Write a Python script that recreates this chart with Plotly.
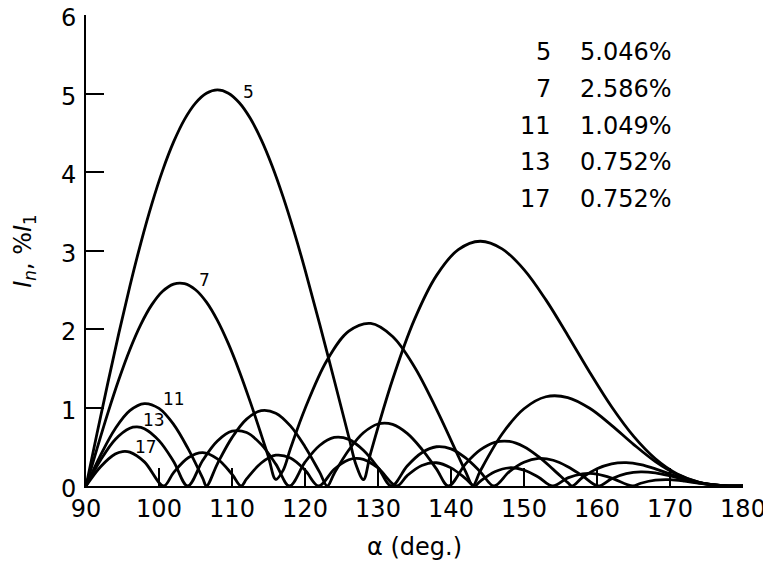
import plotly.graph_objects as go

# ---- data ----
alpha_5 = [90, 91.5, 93, 94.5, 96, 97.5, 99, 100.5, 102, 103.5, 105, 106.5, 108, 109.5, 111, 112.5,
           114, 115.5, 117, 118.5, 120, 123, 126, 127, 128, 129, 132, 135, 138, 141, 144, 147, 150,
           153, 156, 159, 162, 165, 168, 171, 174, 177, 180]
I_5 = [0, 0.665, 1.317, 1.947, 2.542, 3.092, 3.588, 4.021, 4.383, 4.671, 4.878, 5.003, 5.045, 5.004,
       4.882, 4.684, 4.413, 4.077, 3.683, 3.240, 2.757, 1.710, 0.624, 0.267, 0.082, 0.422, 1.356,
       2.122, 2.680, 3.011, 3.118, 3.021, 2.757, 2.371, 1.918, 1.449, 1.009, 0.635, 0.347, 0.154,
       0.048, 0.006, 0]

alpha_7 = [90, 91.5, 93, 94.5, 96, 97.5, 99, 100.5, 102, 103.5, 105, 106.5, 108, 109.5, 111, 112.5,
           114, 115, 116, 117, 118, 120, 123, 126, 129, 132, 135, 138, 141, 142, 143, 144, 147, 150,
           153, 156, 159, 162, 165, 168, 171, 174, 177, 180]
I_7 = [0, 0.473, 0.931, 1.356, 1.736, 2.056, 2.307, 2.481, 2.572, 2.578, 2.500, 2.342, 2.110, 1.813,
       1.463, 1.072, 0.655, 0.369, 0.083, 0.200, 0.474, 0.984, 1.599, 1.972, 2.071, 1.904, 1.516,
       0.979, 0.381, 0.184, 0.008, 0.190, 0.662, 0.984, 1.137, 1.127, 0.990, 0.773, 0.531, 0.311,
       0.145, 0.046, 0.006, 0]

alpha_11 = [90, 92, 94, 96, 98, 100, 102, 104, 106, 106.5, 108, 110, 112, 114, 116, 118, 120, 122,
            123.05, 124, 126, 128, 130, 132, 134, 136, 138, 139.65, 142, 144, 146, 148, 150, 152,
            154, 156, 156.57, 158, 160, 162, 164, 166, 168, 170, 172, 174, 176, 178, 180]
I_11 = [0, 0.394, 0.730, 0.960, 1.050, 0.988, 0.785, 0.472, 0.098, 0, 0.283, 0.616, 0.852, 0.960,
        0.928, 0.766, 0.501, 0.176, 0, 0.160, 0.459, 0.678, 0.790, 0.785, 0.670, 0.470, 0.218, 0,
        0.282, 0.459, 0.556, 0.568, 0.501, 0.374, 0.212, 0.043, 0, 0.108, 0.220, 0.283, 0.298,
        0.272, 0.218, 0.152, 0.090, 0.043, 0.014, 0.002, 0]

alpha_13 = [90, 92, 94, 96, 97, 98, 100, 102, 103.93, 106, 108, 110, 112, 114, 116, 117.87, 120,
            122, 124, 126, 128, 130, 131.84, 134, 136, 138, 140, 142, 144, 145.89, 148, 150, 152,
            154, 156, 158, 160.18, 162, 164, 166, 168, 170, 172, 174, 176, 178, 180]
I_13 = [0, 0.330, 0.593, 0.736, 0.752, 0.730, 0.578, 0.313, 0, 0.328, 0.573, 0.698, 0.682, 0.530,
        0.279, 0, 0.303, 0.516, 0.618, 0.594, 0.455, 0.234, 0, 0.255, 0.424, 0.500, 0.473, 0.357,
        0.183, 0, 0.184, 0.303, 0.351, 0.328, 0.246, 0.130, 0, 0.093, 0.158, 0.181, 0.167, 0.129,
        0.082, 0.040, 0.013, 0.002, 0]

alpha_17 = [90, 92, 94, 95, 96, 98, 100.64, 102, 104, 106, 108, 110, 111.25, 112, 114, 116, 118,
            120, 121.88, 124, 126, 127, 128, 130, 132.56, 134, 136, 138, 140, 142, 143.22, 144, 146,
            148, 150, 152, 153.93, 156, 158, 159, 160, 162, 164.91, 166, 168, 170, 172, 174, 176,
            178, 180]
I_17 = [0, 0.246, 0.408, 0.439, 0.431, 0.307, 0, 0.171, 0.360, 0.425, 0.345, 0.150, 0, 0.090,
        0.293, 0.392, 0.356, 0.203, 0, 0.214, 0.335, 0.353, 0.339, 0.231, 0, 0.133, 0.262, 0.296,
        0.231, 0.095, 0, 0.060, 0.182, 0.232, 0.203, 0.112, 0, 0.103, 0.155, 0.160, 0.150, 0.100,
        0, 0.035, 0.074, 0.080, 0.062, 0.035, 0.013, 0.002, 0]

orders = ["5", "7", "11", "13", "17"]
max_pct = ["5.046%", "2.586%", "1.049%", "0.752%", "0.752%"]
x_ticks = [90, 100, 110, 120, 130, 140, 150, 160, 170, 180]
y_ticks = [0, 1, 2, 3, 4, 5, 6]

series = [(alpha_5, I_5), (alpha_7, I_7), (alpha_11, I_11), (alpha_13, I_13), (alpha_17, I_17)]

FONT = "DejaVu Sans, Liberation Sans, Arial, sans-serif"

fig = go.Figure()
for (xs, ys), name in zip(series, orders):
    fig.add_trace(go.Scatter(x=xs, y=ys, mode="lines", name=name,
                             line=dict(color="black", width=2.8, shape="spline", smoothing=1.0),
                             showlegend=False, hoverinfo="skip"))

# curve labels
label_pos = [(112.2, 5.02), (106.3, 2.62), (102.05, 1.11), (99.3, 0.84), (98.2, 0.50)]
for (lx, ly), t in zip(label_pos, orders):
    fig.add_annotation(x=lx, y=ly, xref="x", yref="y", text=t, showarrow=False,
                       font=dict(size=17, color="black", family=FONT),
                       xanchor="center", yanchor="middle")

# table of maxima
row_y = [5.525, 5.054, 4.583, 4.125, 3.654]
for ry, o, p in zip(row_y, orders, max_pct):
    fig.add_annotation(x=153.97, y=ry, xref="x", yref="y", text=o, showarrow=False,
                       font=dict(size=24, color="black", family=FONT),
                       xanchor="right", yanchor="middle")
    fig.add_annotation(x=157.4, y=ry, xref="x", yref="y", text=p, showarrow=False,
                       font=dict(size=24, color="black", family=FONT),
                       xanchor="left", yanchor="middle")

# axis titles
fig.add_annotation(x=-0.094, y=0.5, xref="paper", yref="paper",
                   text="<i>I<sub>n</sub></i>, %<i>I</i><sub>1</sub>", textangle=-90,
                   showarrow=False, font=dict(size=24, color="black", family=FONT),
                   xanchor="center", yanchor="middle")
fig.add_annotation(x=0.5, y=-0.129, xref="paper", yref="paper", text="α (deg.)",
                   showarrow=False, font=dict(size=24, color="black", family=FONT),
                   xanchor="center", yanchor="middle")

axis_common = dict(showgrid=False, zeroline=False, showline=True, linecolor="black",
                   linewidth=2, ticks="inside", ticklen=18, tickwidth=1.5, tickcolor="black",
                   tickfont=dict(size=24, color="black", family=FONT), mirror=False,
                   automargin=False, ticklabeloverflow="allow")
fig.update_xaxes(range=[90, 180], tickvals=x_ticks, ticktext=[str(v) for v in x_ticks],
                 ticklabelstandoff=0, **axis_common)
fig.update_yaxes(range=[0, 6], tickvals=y_ticks, ticktext=[str(v) for v in y_ticks],
                 ticklabelstandoff=3, ticklabelshift=3, **axis_common)

# the page body adds an 8px offset, so the figure is sized to fill the 771x567 window
fig.update_layout(width=763, height=559, margin=dict(l=78, r=28, t=7, b=81),
                  plot_bgcolor="white", paper_bgcolor="white",
                  font=dict(family=FONT, color="black"))

fig.write_html("out.html")
